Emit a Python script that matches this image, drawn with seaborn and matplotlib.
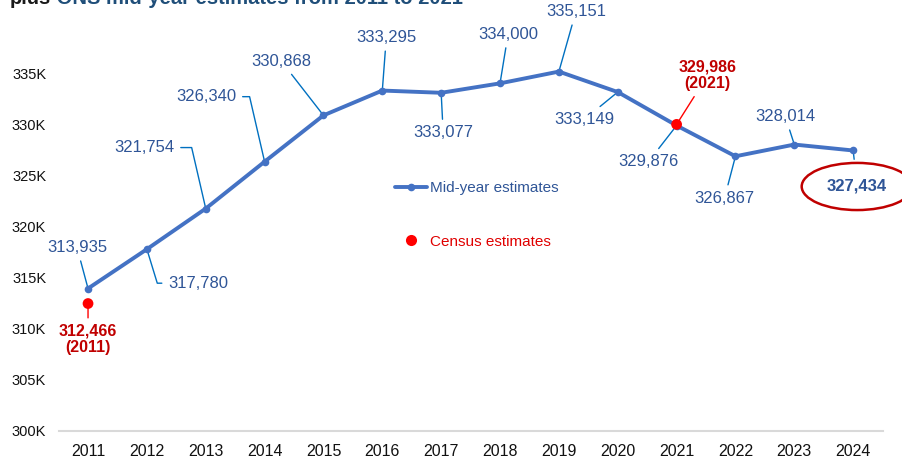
import pandas as pd
import matplotlib
matplotlib.use("Agg")
import matplotlib.pyplot as plt
import seaborn as sns
from matplotlib.lines import Line2D
from matplotlib.ticker import FuncFormatter

# Dados
years = [2011, 2012, 2013, 2014, 2015, 2016, 2017, 2018, 2019, 2020, 2021, 2022, 2023, 2024]
mid_year = [313935, 317780, 321754, 326340, 330868, 333295, 333077, 334000,
            335151, 333149, 329876, 326867, 328014, 327434]
census_years = [2011, 2021]
census = [312466, 329986]
census_labels = ["312,466\n(2011)", "329,986\n(2021)"]

# Cores
BLUE_LINE = "#4472C4"
BLUE_TEXT = "#2F5597"
LEADER = "#0070C0"
RED = "#FF0000"
DARK_RED = "#C00000"

# deslocamento dos rótulos (pixels), alinhamento e conector
label_pos = {
    2011: (-11, 41, "center", None),
    2012: (21, -34, "left", "angle,angleA=0,angleB=-73,rad=0"),
    2013: (-31, 61, "right", "angle,angleA=0,angleB=103,rad=0"),
    2014: (-28, 65, "right", "angle,angleA=0,angleB=103,rad=0"),
    2015: (-42, 54, "center", None),
    2016: (4, 53, "center", None),
    2017: (2, -40, "center", None),
    2018: (8, 49, "center", None),
    2019: (17, 60, "center", None),
    2020: (-33, -27, "center", None),
    2021: (-28, -36, "center", None),
    2022: (-11, -42, "center", None),
    2023: (-9, 28, "center", None),
    2024: (4, -36, "center", None),
}
census_pos = {2011: (0, -36), 2021: (31, 49)}

df_mid = pd.DataFrame({"Ano": years, "Valor": mid_year})
df_census = pd.DataFrame({"Ano": census_years, "Valor": census})

sns.set_theme(style="white")
plt.rcParams["font.family"] = ["Liberation Sans", "DejaVu Sans"]

fig = plt.figure(figsize=(9.02, 4.57), dpi=100)
ax = fig.add_axes([58.6 / 902, 1 - 431 / 457, 824 / 902, 409 / 457])

sns.lineplot(data=df_mid, x="Ano", y="Valor", ax=ax, color=BLUE_LINE, lw=2.8,
             marker="o", markersize=5.5, markeredgewidth=0, zorder=3)
sns.scatterplot(data=df_census, x="Ano", y="Valor", ax=ax, color=RED, s=60,
                edgecolor="none", zorder=4)

ax.set_xlim(2010.5, 2024.5)
ax.set_ylim(300000, 340000)
ax.set_xticks(years)
ax.set_yticks(range(300000, 340000, 5000))
ax.yaxis.set_major_formatter(FuncFormatter(lambda v, p: f"{v / 1000:.0f}K"))
ax.tick_params(axis="x", labelsize=11.5, pad=9, length=0, colors="#111111")
ax.tick_params(axis="y", labelsize=10.5, pad=9, length=0, colors="#111111")
ax.set_xlabel("")
ax.set_ylabel("")
for s in ["top", "left", "right"]:
    ax.spines[s].set_visible(False)
ax.spines["bottom"].set_color("#D9D9D9")
ax.spines["bottom"].set_linewidth(1.5)

# Rótulos das estimativas
for yr, val in zip(years, mid_year):
    dx, dy, ha, conn = label_pos[yr]
    relpos = {"center": (0.5, 0.5), "left": (0, 0.5), "right": (1, 0.5)}[ha]
    bold = yr == 2024
    props = dict(arrowstyle="-", color=LEADER, lw=1.0, shrinkA=2, shrinkB=0, relpos=relpos)
    if conn:
        props["connectionstyle"] = conn
    kw = {}
    if bold:
        # elipse vermelha em volta do último valor
        kw["bbox"] = dict(boxstyle="ellipse,pad=0.55", fc="none", ec=DARK_RED, lw=1.8)
    ax.annotate(f"{val:,}", xy=(yr, val), xytext=(dx, dy), textcoords="offset pixels",
                ha=ha, va="center", fontsize=12, color=BLUE_TEXT,
                fontweight="bold" if bold else "normal",
                arrowprops=props, zorder=1, annotation_clip=False, **kw)

# Rótulos do censo
for yr, val, lab in zip(census_years, census, census_labels):
    dx, dy = census_pos[yr]
    ax.annotate(lab, xy=(yr, val), xytext=(dx, dy), textcoords="offset pixels",
                ha="center", va="center", fontsize=11.5, color=DARK_RED,
                fontweight="bold", linespacing=1.1,
                arrowprops=dict(arrowstyle="-", color=RED, lw=1.0, shrinkA=2, shrinkB=0),
                zorder=2, annotation_clip=False)

# Legenda
handles = [
    Line2D([], [], color=BLUE_LINE, lw=2.8, marker="o", markersize=5.5, markeredgewidth=0),
    Line2D([], [], color=RED, lw=0, marker="o", markersize=8, markeredgewidth=0),
]
ax.legend(handles, ["Mid-year estimates", "Census estimates"], loc="upper left",
          bbox_to_anchor=((395 - 58.6) / 824, (431 - 181) / 409), frameon=False,
          fontsize=11, labelcolor=[BLUE_TEXT, "#E00000"], handlelength=2.1,
          handletextpad=0.2, labelspacing=2.6, borderpad=0, borderaxespad=0)

# Título (cortado no topo, como no original)
t1 = fig.text(10 / 902, 1 - 4.5 / 457, "plus", fontsize=14.5, fontweight="bold",
              color="#1A1A1A", va="baseline", ha="left")
ax.annotate(" ONS mid-year estimates from 2011 to 2021", xy=(1, 0), xycoords=t1,
            fontsize=14.5, fontweight="bold", color="#1F4E79", va="bottom", ha="left",
            annotation_clip=False)

fig.savefig("out.png", dpi=100)
